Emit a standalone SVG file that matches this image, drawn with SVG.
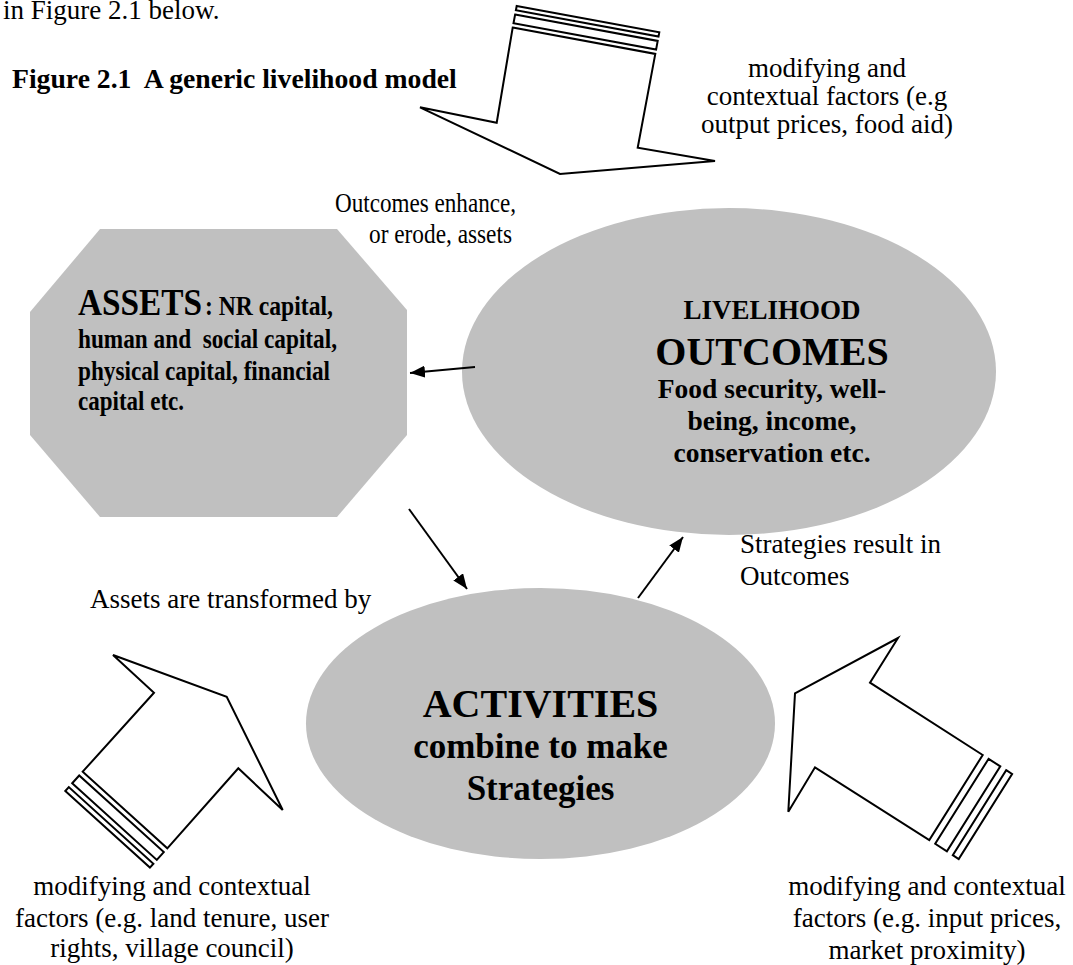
<svg xmlns="http://www.w3.org/2000/svg" width="1073" height="965" viewBox="0 0 1073 965">
<defs>
<style>
.t{font-family:"Liberation Serif","Times New Roman",serif;font-size:27px;fill:#000}
.b{font-family:"Liberation Serif","Times New Roman",serif;font-weight:bold;fill:#000}
.c{text-anchor:middle}
.blk{fill:#fff;stroke:#000;stroke-width:2;stroke-linejoin:miter}
.node{fill:#c0c0c0;stroke:none}
.con{stroke:#000;stroke-width:2;fill:none;marker-end:url(#ah)}
</style>
<marker id="ah" markerUnits="userSpaceOnUse" markerWidth="16" markerHeight="12" refX="15" refY="6" orient="auto">
<path d="M0,0 L15,6 L0,12 z" fill="#000"/>
</marker>
</defs>
<rect width="1073" height="965" fill="#fff"/>

<g id="labels">
<text class="t" x="3" y="19">in Figure 2.1 below.</text>
<text class="b" x="12" y="88" font-size="27.7" style="white-space:pre">Figure 2.1  A generic livelihood model</text>
<text class="t c" x="827" y="77">modifying and</text>
<text class="t c" x="827" y="105">contextual factors (e.g</text>
<text class="t c" x="827" y="133">output prices, food aid)</text>
<text class="t" x="335" y="212" font-size="27" textLength="181" lengthAdjust="spacingAndGlyphs">Outcomes enhance,</text>
<text class="t" x="369" y="243" font-size="27" textLength="143" lengthAdjust="spacingAndGlyphs">or erode, assets</text>
<text class="t" x="740" y="553">Strategies result in</text>
<text class="t" x="740" y="585">Outcomes</text>
<text class="t" x="90" y="608">Assets are transformed by</text>
<text class="t c" x="172" y="895">modifying and contextual</text>
<text class="t c" x="172" y="927">factors (e.g. land tenure, user</text>
<text class="t c" x="172" y="957">rights, village council)</text>
<text class="t c" x="927" y="895">modifying and contextual</text>
<text class="t c" x="927" y="927">factors (e.g. input prices,</text>
<text class="t c" x="927" y="959">market proximity)</text>
</g>

<g id="assets">
<polygon class="node" points="100,229 337,229 407,310 407,435 337,517 100,517 30,435 30,312"/>
<text class="b" x="78" y="315" font-size="37" textLength="124" lengthAdjust="spacingAndGlyphs">ASSETS</text>
<text class="b" x="205" y="315" font-size="27.5" textLength="128" lengthAdjust="spacingAndGlyphs">: NR capital,</text>
<text class="b" x="78" y="348" font-size="27.5" textLength="259" lengthAdjust="spacingAndGlyphs" style="white-space:pre">human and  social capital,</text>
<text class="b" x="78" y="380" font-size="27.5" textLength="252" lengthAdjust="spacingAndGlyphs">physical capital, financial</text>
<text class="b" x="78" y="410" font-size="27.5" textLength="106" lengthAdjust="spacingAndGlyphs">capital etc.</text>
</g>

<g id="outcomes">
<ellipse class="node" cx="729" cy="371.5" rx="267" ry="163.5"/>
<text class="b c" x="772" y="319" font-size="27">LIVELIHOOD</text>
<text class="b c" x="772" y="365" font-size="40">OUTCOMES</text>
<text class="b c" x="772" y="398" font-size="27.5">Food security, well-</text>
<text class="b c" x="772" y="430" font-size="27.5">being, income,</text>
<text class="b c" x="772" y="462" font-size="27.5">conservation etc.</text>
</g>

<g id="activities">
<ellipse class="node" cx="540.5" cy="723.5" rx="234.5" ry="135.5"/>
<text class="b c" x="540.5" y="717" font-size="40">ACTIVITIES</text>
<text class="b c" x="540.5" y="758" font-size="35">combine to make</text>
<text class="b c" x="540.5" y="800" font-size="35">Strategies</text>
</g>

<g id="arrow-top">
<polygon class="blk" points="516.7,6 659.3,32.3 658.5,36.6 515.9,10.3"/>
<polygon class="blk" points="515.1,14.6 657.7,40.9 656.1,49.6 513.5,23.3"/>
<polygon class="blk" points="512.7,27.6 655.3,53.9 637.7,147.7 715,161 560,174 420,107.3 496.7,122.7"/>
</g>

<g id="arrow-bottom-left">
<polygon class="blk" points="65.3,791 149.9,867.6 153.4,863.7 68.8,787.1"/>
<polygon class="blk" points="72.2,783.3 156.8,859.9 163.8,852.1 79.2,775.5"/>
<polygon class="blk" points="82.7,771.7 154,692.7 113,655 226.7,696.7 282.7,810 238.3,768.3 167.3,848.3"/>
</g>

<g id="arrow-bottom-right">
<polygon class="blk" points="1006.2,770.2 1012.1,774 958.7,859 952.8,855.2"/>
<polygon class="blk" points="988.6,758.8 1000.3,766.4 946.9,851.4 935.2,843.8"/>
<polygon class="blk" points="982.7,755 870,682.7 898,638 795,693.3 788.3,811.7 815,767.3 929.3,840"/>
</g>

<g id="connectors">
<line class="con" x1="475" y1="367" x2="410" y2="373"/>
<line class="con" x1="409" y1="509" x2="467" y2="589"/>
<line class="con" x1="638" y1="598" x2="683" y2="537"/>
</g>
</svg>
